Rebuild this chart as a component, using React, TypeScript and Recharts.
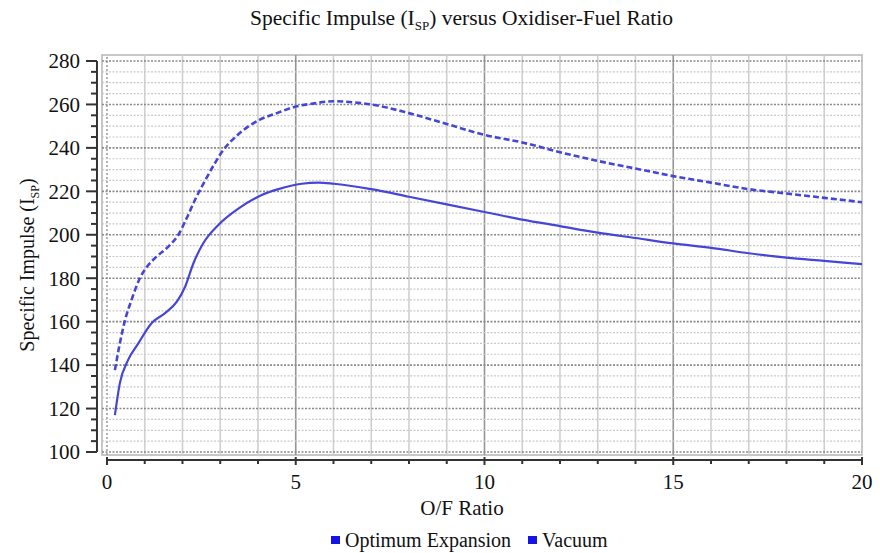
import React from "react"
import { LineChart, Line, XAxis, YAxis, ReferenceLine, ReferenceArea, Legend } from "recharts"

const vacuumRatio = [0.21, 0.34, 0.48, 0.65, 0.87, 1.09, 1.32, 1.67, 1.89, 2.11, 2.33, 2.6, 2.86, 3.08, 3.4, 4.05, 4.5, 5, 5.5, 6, 6.5, 7, 8, 9, 10, 11, 12, 13, 14, 15, 16, 17, 18, 19, 20]
const vacuumIsp = [137.7, 150, 160.8, 170, 180, 186, 190, 195.3, 200, 207.6, 216, 225, 233, 239, 245, 253, 256, 259, 260.5, 261.5, 261, 260, 256, 251, 246, 242.5, 238, 234, 230.5, 227, 224, 221, 219, 217, 215]

const optimumRatio = [0.21, 0.34, 0.56, 0.83, 1.18, 1.54, 1.85, 2.07, 2.29, 2.55, 2.95, 3.48, 4.1, 4.54, 5.16, 5.6, 6, 7, 8, 9, 10, 11, 12, 13, 14, 15, 16, 17, 18, 19, 20]
const optimumIsp = [117, 131.6, 142.4, 150, 159.3, 163.9, 169.2, 176.1, 186.9, 196.1, 204.5, 212, 218.3, 221, 223.5, 224, 223.5, 221, 217.5, 214, 210.5, 207, 204, 201, 198.5, 196, 194, 191.5, 189.5, 188, 186.5]

const xTicks = [0, 1, 2, 3, 4, 5, 6, 7, 8, 9, 10, 11, 12, 13, 14, 15, 16, 17, 18, 19, 20]
const yTicks = [100, 105, 110, 115, 120, 125, 130, 135, 140, 145, 150, 155, 160, 165, 170, 175, 180, 185, 190, 195, 200, 205, 210, 215, 220, 225, 230, 235, 240, 245, 250, 255, 260, 265, 270, 275, 280]

const xDomain: [number, number] = [-0.132, 20]
const yDomain: [number, number] = [98.62, 282.76]

const optimumData = optimumRatio.map((r, i) => ({ ratio: r, isp: optimumIsp[i] }))
const vacuumData = vacuumRatio.map((r, i) => ({ ratio: r, isp: vacuumIsp[i] }))

const serif = "'Liberation Serif', 'Times New Roman', serif"
const lineBlue = "#4646d6"
const textStyle = { fontFamily: serif }

function YTick({ x, y, payload }: any) {
  const major = payload.value % 20 === 0
  const ax = x - 5
  return (
    <g>
      <line x1={ax - (major ? 11 : 6)} x2={ax} y1={y} y2={y} stroke="#333" strokeWidth={2} />
      {major && (
        <text x={ax - 17} y={y} dy="0.35em" textAnchor="end" style={textStyle} fontSize={21} fill="#111">
          {payload.value}
        </text>
      )}
    </g>
  )
}

function XTick({ x, y, payload }: any) {
  const major = payload.value % 5 === 0
  const ay = y + 5
  return (
    <g>
      <line x1={x} x2={x} y1={major ? ay - 3 : ay} y2={ay + (major ? 5 : 4)} stroke="#333" strokeWidth={2} />
      {major && (
        <text x={x} y={ay + 22} dy="0.35em" textAnchor="middle" style={textStyle} fontSize={21} fill="#111">
          {payload.value}
        </text>
      )}
    </g>
  )
}

function LegendContent({ payload }: any) {
  return (
    <div style={{ display: "flex", alignItems: "center", height: 26, paddingLeft: 331, fontFamily: serif, fontSize: 20, color: "#111" }}>
      {(payload || []).map((p: any, i: number) => (
        <span key={i} style={{ display: "flex", alignItems: "center", marginRight: 17 }}>
          <span style={{ width: 9, height: 8, background: "#1414e6", display: "inline-block", marginRight: 5 }} />
          {p.value}
        </span>
      ))}
    </div>
  )
}

export default function App() {
  const minorX = xTicks.filter((v) => v % 5 !== 0)
  const majorX = [5, 10, 15]
  return (
    <div style={{ position: "absolute", left: 0, top: 0, width: 880, height: 553 }}>
      <div
        style={{
          position: "absolute",
          left: 250,
          top: 6,
          whiteSpace: "nowrap",
          fontFamily: serif,
          fontSize: 21.5,
          lineHeight: "24px",
          color: "#111",
        }}
      >
        Specific Impulse (I<sub style={{ fontSize: 13 }}>SP</sub>) versus Oxidiser-Fuel Ratio
      </div>
      <LineChart width={880} height={553} margin={{ top: 55, right: 18, left: 0, bottom: 0 }}>
        <XAxis
          dataKey="ratio"
          type="number"
          domain={xDomain}
          ticks={xTicks}
          allowDataOverflow
          axisLine={false}
          tickLine={false}
          tickSize={0}
          tickMargin={0}
          height={72}
          interval={0}
          tick={<XTick />}
          label={({ viewBox }: any) => (
            <text x={viewBox.x + viewBox.width / 2 - 20} y={508} dy="0.35em" textAnchor="middle" style={textStyle} fontSize={21} fill="#111">
              O/F Ratio
            </text>
          )}
        />
        <YAxis
          type="number"
          domain={yDomain}
          ticks={yTicks}
          allowDataOverflow
          axisLine={false}
          tickLine={false}
          tickSize={0}
          tickMargin={0}
          width={102}
          interval={0}
          tick={<YTick />}
          label={({ viewBox }: any) => {
            const cx = 27
            const cy = viewBox.y + viewBox.height / 2 + 10
            return (
              <text x={cx} y={cy} transform={`rotate(-90, ${cx}, ${cy})`} textAnchor="middle" dy="0.35em" style={textStyle} fontSize={20} fill="#111">
                <tspan>Specific Impulse (I</tspan>
                <tspan dy={5} fontSize={12}>SP</tspan>
                <tspan dy={-5}>)</tspan>
              </text>
            )
          }}
        />
        <ReferenceArea x1={xDomain[0]} x2={xDomain[1]} y1={yDomain[0]} y2={yDomain[1]} fill="#fff" fillOpacity={0} stroke="#b5b5b5" strokeWidth={1.5} />
        {minorX.map((v) => (
          <ReferenceLine key={`vx${v}`} x={v} stroke="#cfcfcf" strokeWidth={1.6} />
        ))}
        <ReferenceLine x={0} stroke="#999" strokeWidth={1.5} strokeDasharray="2 2" />
        {majorX.map((v) => (
          <ReferenceLine key={`mx${v}`} x={v} stroke="#959595" strokeWidth={1.6} />
        ))}
        {yTicks.map((v) => (
          <ReferenceLine
            key={`hy${v}`}
            y={v}
            stroke={v % 20 === 0 ? "#8a8a8a" : "#c9c9c9"}
            strokeWidth={v % 20 === 0 ? 1.6 : 1.2}
            strokeDasharray="2 1.5"
          />
        ))}
        <ReferenceLine segment={[{ x: -0.265, y: 100 }, { x: -0.265, y: 280 }]} ifOverflow="visible" stroke="#333" strokeWidth={2} />
        <ReferenceLine segment={[{ x: 0, y: 96.32 }, { x: 20, y: 96.32 }]} ifOverflow="visible" stroke="#333" strokeWidth={2} />
        <Line
          data={optimumData}
          dataKey="isp"
          name="Optimum Expansion"
          type="monotone"
          stroke={lineBlue}
          strokeWidth={2.2}
          dot={false}
          legendType="square"
          isAnimationActive={false}
        />
        <Line
          data={vacuumData}
          dataKey="isp"
          name="Vacuum"
          type="monotone"
          stroke={lineBlue}
          strokeWidth={2.6}
          strokeDasharray="6 3"
          dot={false}
          legendType="square"
          isAnimationActive={false}
        />
        <Legend
          verticalAlign="bottom"
          content={<LegendContent />}
          wrapperStyle={{ left: 0, bottom: 0, width: 880, height: 26 }}
        />
      </LineChart>
    </div>
  )
}
